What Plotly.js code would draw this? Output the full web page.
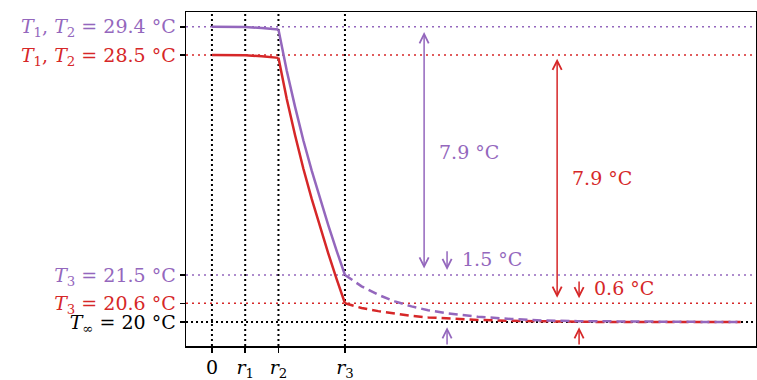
<!DOCTYPE html>
<html>
<head>
<meta charset="utf-8">
<script src="https://cdn.plot.ly/plotly-3.0.1.min.js"></script>
<style>html,body{margin:0;padding:0;background:#fff;}#chart{width:757px;height:380px;}</style>
</head>
<body>
<div id="chart"></div>
<script>
// ---- data ----
const xInner = [0, 0.5, 1, 1.5, 2];
const purpleInner = [29.4, 29.4, 29.39, 29.36, 29.31];
const redInner = [28.5, 28.5, 28.49, 28.46, 28.41];

const xMid = [2, 2.25, 2.5, 2.75, 3, 3.25, 3.5, 3.75, 4];
const purpleMid = [29.31, 28.0, 26.85, 25.78, 24.82, 23.92, 23.08, 22.27, 21.5];
const redMid = [28.41, 27.1, 25.95, 24.88, 23.92, 23.02, 22.18, 21.37, 20.6];

const xTail = [4, 4.5, 5, 5.5, 6, 6.5, 7, 8, 9, 10, 11, 12, 13, 14, 15, 15.9];
const purpleTail = [21.5, 21.14, 20.87, 20.66, 20.5, 20.38, 20.29, 20.17, 20.1, 20.05, 20.03, 20.02, 20.01, 20.0, 20.0, 20.0];
const redTail = [20.6, 20.45, 20.35, 20.27, 20.2, 20.15, 20.12, 20.07, 20.04, 20.02, 20.01, 20.0, 20.0, 20.0, 20.0, 20.0];

const xTickVals = [0, 1, 2, 4];
const xTickText = ['0', '<i>r</i><sub>1</sub>', '<i>r</i><sub>2</sub>', '<i>r</i><sub>3</sub>'];

const T12Purple = 29.4, T12Red = 28.5, T3Purple = 21.5, T3Red = 20.6, TInf = 20;
const yTickVals = [T12Purple, T12Red, T3Purple, T3Red, TInf];
const yTickText = [
  '<i>T</i><sub>1</sub>, <i>T</i><sub>2</sub> = 29.4 °C',
  '<i>T</i><sub>1</sub>, <i>T</i><sub>2</sub> = 28.5 °C',
  '<i>T</i><sub>3</sub> = 21.5 °C',
  '<i>T</i><sub>3</sub> = 20.6 °C',
  '<i>T</i><sub>∞</sub> = 20 °C'
];

// ---- styles ----
const PURPLE = '#9467bd', RED = '#d62728', BLACK = '#000000';
const tickColors = [PURPLE, RED, PURPLE, RED, BLACK];
const FONT = 'DejaVu Serif, Liberation Serif, serif';
const FS = 19;

const solid = (x, y, c) => ({x, y, type: 'scatter', mode: 'lines', line: {color: c, width: 2.5}, hoverinfo: 'skip', showlegend: false});
const dashed = (x, y, c) => ({x, y, type: 'scatter', mode: 'lines', line: {color: c, width: 2.5, dash: '9px,5px'}, hoverinfo: 'skip', showlegend: false});

const data = [
  solid(xInner, redInner, RED), solid(xMid, redMid, RED), dashed(xTail, redTail, RED),
  solid(xInner, purpleInner, PURPLE), solid(xMid, purpleMid, PURPLE), dashed(xTail, purpleTail, PURPLE)
];

const shapes = [];
yTickVals.forEach((v, i) => {
  shapes.push({type: 'line', xref: 'paper', x0: 0, x1: 1, yref: 'y', y0: v, y1: v,
    line: {color: tickColors[i], width: i === 4 ? 2 : 1.6, dash: i === 4 ? '2px,3px' : '2px,4px'}, layer: 'below'});
});
xTickVals.forEach(v => {
  shapes.push({type: 'line', xref: 'x', x0: v, x1: v, yref: 'paper', y0: 0, y1: 1,
    line: {color: BLACK, width: 2, dash: '2px,3px'}, layer: 'below'});
});

const fmt = v => v.toFixed(1) + ' °C';
const arrow = (x, yTail, yHead, c, both) => ({
  x: x, y: yHead, ax: x, ay: yTail, xref: 'x', yref: 'y', axref: 'x', ayref: 'y',
  text: '', showarrow: true, arrowhead: 5, arrowsize: 1.2, arrowwidth: 1.5, arrowcolor: c,
  arrowside: both ? 'end+start' : 'end', startarrowhead: 5, startarrowsize: 1.2
});
const label = (x, y, t, c) => ({x, y, xref: 'x', yref: 'y', text: t, showarrow: false, xanchor: 'left', yanchor: 'middle',
  font: {family: FONT, size: FS, color: c}});

const annotations = [
  arrow(6.38, 21.66, 29.23, PURPLE, true),
  arrow(10.38, 20.73, 28.38, RED, true),
  arrow(7.07, 22.3, 21.66, PURPLE, false),
  arrow(7.07, 19.24, 19.84, PURPLE, false),
  arrow(11.04, 21.34, 20.76, RED, false),
  arrow(11.04, 19.24, 19.84, RED, false),
  label(6.77, 25.41, fmt(T12Purple - T3Purple), PURPLE),
  label(10.77, 24.59, fmt(T12Red - T3Red), RED),
  label(7.46, 22.0, fmt(T3Purple - TInf), PURPLE),
  label(11.43, 21.08, fmt(T3Red - TInf), RED)
];

const layout = {
  width: 757, height: 380,
  margin: {l: 186, r: 1, t: 12, b: 34},
  paper_bgcolor: '#fff', plot_bgcolor: '#fff',
  font: {family: FONT, size: FS, color: BLACK},
  showlegend: false,
  xaxis: {range: [-0.78, 16.36], showgrid: false, zeroline: false, showline: true, linecolor: BLACK, linewidth: 1.5, mirror: true,
    ticks: 'outside', ticklen: 5, tickwidth: 1.5, tickcolor: BLACK, tickmode: 'array', tickvals: xTickVals, ticktext: xTickText,
    ticklabelstandoff: -1,
    tickfont: {family: FONT, size: FS, color: BLACK}},
  yaxis: {range: [19.24, 29.87], showgrid: false, zeroline: false, showline: true, linecolor: BLACK, linewidth: 1.5, mirror: true,
    ticks: 'outside', ticklen: 5, tickwidth: 1.5, tickcolor: BLACK, tickmode: 'array', tickvals: yTickVals,
    ticktext: yTickText.map((t, i) => '<span style="color:' + tickColors[i] + '">' + t + '</span>'),
    tickfont: {family: FONT, size: FS, color: BLACK}},
  shapes: shapes,
  annotations: annotations
};

Plotly.newPlot('chart', data, layout, {displayModeBar: false, staticPlot: true});
</script>
</body>
</html>
